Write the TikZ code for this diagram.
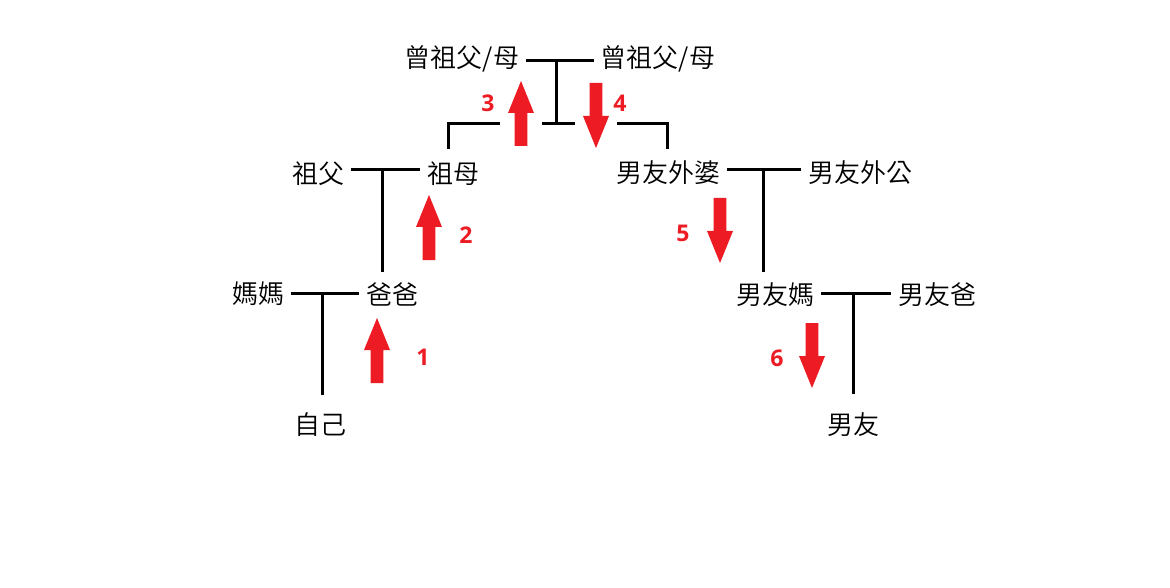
\documentclass[tikz,border=0pt]{standalone}
\usepackage{fontspec}
\setmainfont{Noto Sans CJK TC}[UprightFont=* DemiLight]
\newfontfamily\numfont{Open Sans}
\definecolor{arrred}{HTML}{ED1C24}
\begin{document}
\begin{tikzpicture}[x=1pt,y=-1pt,
  person/.style={font=\fontsize{26}{26}\selectfont, inner xsep=7pt, inner ysep=0pt, anchor=center},
  famline/.style={line width=3pt, black},
  num/.style={font=\numfont\bfseries\fontsize{23}{23}\selectfont, text=arrred, inner sep=0pt},
  uparr/.pic={\fill[arrred] (-6.3,0) -- (-6.3,-33) -- (-13,-33) -- (0,-65) -- (13,-33) -- (6.3,-33) -- (6.3,0) -- cycle;},
  downarr/.pic={\fill[arrred] (-6.3,0) -- (-6.3,33) -- (-13,33) -- (0,65) -- (13,33) -- (6.3,33) -- (6.3,0) -- cycle;}
]
\useasboundingbox[fill=white] (0,0) rectangle (1170,588);

% great-grandparents
\node[person] (ggl) at (462,59) {曾祖父/母};
\node[person] (ggr) at (658,59) {曾祖父/母};
\coordinate (t1) at (556,61);
\coordinate (t1b) at (556,124);
\coordinate (s1a) at (542,124);
\coordinate (s1b) at (575,124);
\draw[famline] (ggl.east |- t1) -- (ggr.west |- t1);
\draw[famline] (t1) -- (t1b);
\draw[famline] (s1a) -- (s1b);

% grandparents
\node[person] (gf) at (318,174) {祖父};
\node[person] (gm) at (453,174) {祖母};
\coordinate (t2) at (382,170);
\draw[famline] (gf.east |- t2) -- (gm.west |- t2);
\coordinate (lb1) at (500,124);
\coordinate (lb2) at (448,124);
\coordinate (lb3) at (448,149);
\draw[famline] (lb1) -- (lb2) -- (lb3);

% boyfriend's maternal grandparents
\node[person] (bgm) at (668,173) {男友外婆};
\node[person] (bgf) at (860,173) {男友外公};
\coordinate (t3) at (763,170);
\draw[famline] (bgm.east |- t3) -- (bgf.west |- t3);
\coordinate (rb1) at (617,124);
\coordinate (rb2) at (667,124);
\coordinate (rb3) at (667,149);
\draw[famline] (rb1) -- (rb2) -- (rb3);

% parents
\node[person] (mom) at (258,294) {媽媽};
\node[person] (dad) at (392,294) {爸爸};
\coordinate (t4) at (322,293);
\draw[famline] (mom.east |- t4) -- (dad.west |- t4);
\coordinate (t2e) at (382,272);
\draw[famline] (t2) -- (t2e);

\node[person] (bmom) at (775,295) {男友媽};
\node[person] (bdad) at (937,295) {男友爸};
\coordinate (t5) at (853,293);
\draw[famline] (bmom.east |- t5) -- (bdad.west |- t5);
\coordinate (t3e) at (763,272);
\draw[famline] (t3) -- (t3e);

% children
\node[person] (me) at (320,425) {自己};
\node[person] (bf) at (853,425) {男友};
\coordinate (t4e) at (322,395);
\coordinate (t5e) at (853,394);
\draw[famline] (t4) -- (t4e);
\draw[famline] (t5) -- (t5e);

% arrows and numbers
\pic at (377,383) {uparr};
\node[num] (n1) at (423,357) {1};
\pic at (429,260) {uparr};
\node[num] (n2) at (466,235) {2};
\pic at (521,146) {uparr};
\node[num] (n3) at (488,103) {3};
\pic at (596,83) {downarr};
\node[num] (n4) at (620,103) {4};
\pic at (720,198) {downarr};
\node[num] (n5) at (683,233) {5};
\pic at (812,323) {downarr};
\node[num] (n6) at (777,358) {6};
\end{tikzpicture}
\end{document}
